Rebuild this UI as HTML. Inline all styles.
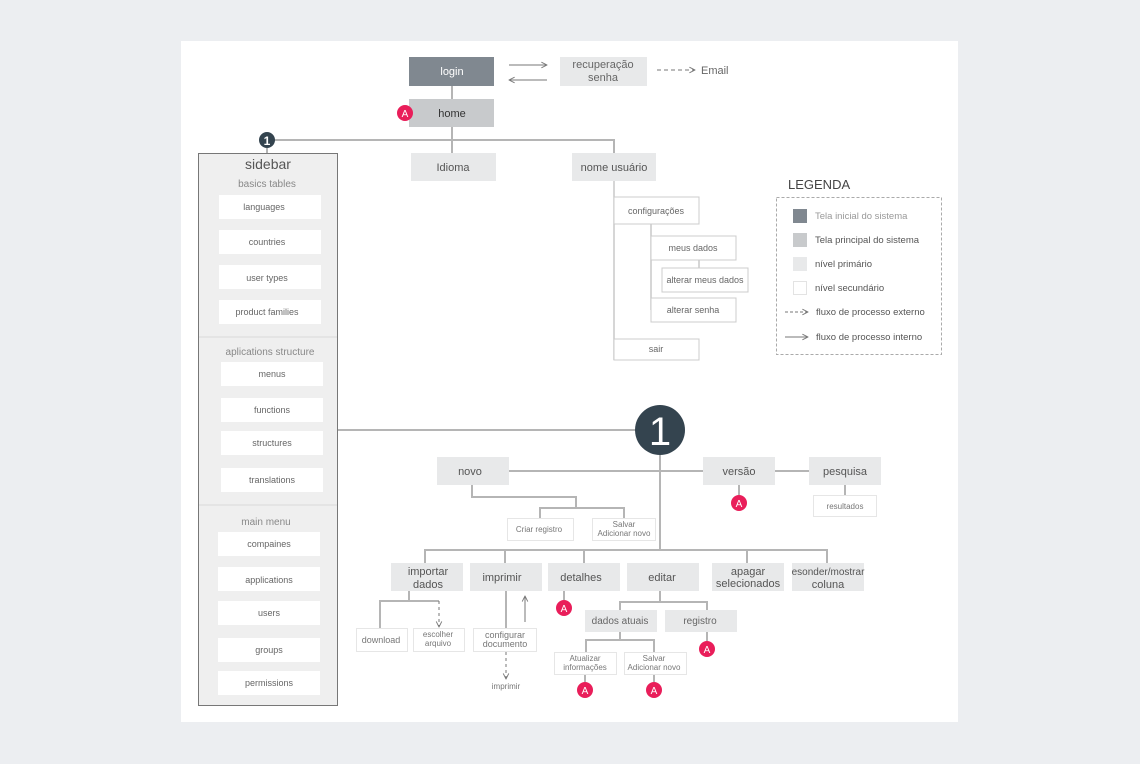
<!DOCTYPE html>
<html><head><meta charset="utf-8"><style>
html,body{margin:0;padding:0;background:#eceef1;width:1140px;height:764px;overflow:hidden}
svg{display:block;font-family:"Liberation Sans",sans-serif}
</style></head><body>
<svg width="1140" height="764" viewBox="0 0 1140 764">
<defs>
<marker id="ar" viewBox="0 0 10 10" refX="9" refY="5" markerWidth="7" markerHeight="7" orient="auto"><path d="M1 1L9 5L1 9" fill="none" stroke="#777" stroke-width="1.3"/></marker>
</defs>
<rect x="181" y="41" width="777" height="681" fill="#fff"/>
<g stroke="#b5b5b5" stroke-width="2" fill="none">
<path d="M452 86V99M452 127V153M267 140H614V153"/>
<path d="M338 430H640M660 455V550M509 471H809"/>
<path d="M739 485V495M845 485V495"/>
<path d="M472 485V497H576V508M540 518V508H624V518"/>
<path d="M425 563V550H827V563M505 550V563M584 550V563M747 550V563"/>
<path d="M409 591V601H380V628M439 601H409"/>
<path d="M506 591V628M564 591V600"/>
<path d="M660 591V602M620 610V602H707V610M707 632V641"/>
<path d="M620 632V640M586 652V640H654V652M585 674V682M654 674V682"/>
<path d="M267 148V153"/>
</g>
<g stroke="#c8c8c8" stroke-width="1.5" fill="none">
<path d="M614 181V360M651 224V310M699 260V268"/>
</g>
<g stroke="#777" stroke-width="1" fill="none">
<path d="M509 65H547" marker-end="url(#ar)"/>
<path d="M547 80H509" marker-end="url(#ar)"/>
<path d="M657 70H695" stroke-dasharray="4 3" marker-end="url(#ar)"/>
<path d="M439 601V627" stroke-dasharray="3 3" marker-end="url(#ar)"/>
<path d="M525 622V596" marker-end="url(#ar)"/>
<path d="M506 652V679" stroke-dasharray="3 3" marker-end="url(#ar)"/>
</g>
<g font-size="11" text-anchor="middle">
<rect x="409" y="57" width="85" height="29" fill="#808890"/><text x="452" y="75" fill="#fff">login</text>
<rect x="560" y="57" width="87" height="29" fill="#e8e9ea"/><text x="603" y="68" fill="#666">recuperação</text><text x="603" y="81" fill="#666">senha</text>
<text x="701" y="74" text-anchor="start" fill="#666">Email</text>
<rect x="409" y="99" width="85" height="28" fill="#c8cacc"/><text x="452" y="117" fill="#333">home</text>
<rect x="411" y="153" width="85" height="28" fill="#e8e9ea"/><text x="453" y="171" fill="#555">Idioma</text>
<rect x="572" y="153" width="84" height="28" fill="#e8e9ea"/><text x="614" y="171" fill="#555">nome usuário</text>
</g>
<g font-size="9" text-anchor="middle" fill="#666" stroke-width="1">
<rect x="614" y="197" width="85" height="27" fill="#fff" stroke="#ccc"/><text x="656" y="214">configurações</text>
<rect x="651" y="236" width="85" height="24" fill="#fff" stroke="#ccc"/><text x="693" y="251">meus dados</text>
<rect x="662" y="268" width="86" height="24" fill="#fff" stroke="#ccc"/><text x="705" y="283">alterar meus dados</text>
<rect x="651" y="298" width="85" height="24" fill="#fff" stroke="#ccc"/><text x="693" y="313">alterar senha</text>
<rect x="614" y="339" width="85" height="21" fill="#fff" stroke="#ccc"/><text x="656" y="352">sair</text>
</g>
<rect x="198.5" y="153.5" width="139" height="552" fill="#efefef" stroke="#777"/>
<path d="M199 337H337M199 505H337" stroke="#e0e0e0" stroke-width="1.5"/>
<g text-anchor="middle" fill="#555">
<text x="268" y="169" font-size="14">sidebar</text>
<text x="267" y="187" font-size="10" fill="#888">basics tables</text>
<text x="270" y="355" font-size="10" fill="#888">aplications structure</text>
<text x="266" y="525" font-size="10" fill="#888">main menu</text>
</g>
<g font-size="9" text-anchor="middle" fill="#666">
<rect x="219" y="195" width="102" height="24" fill="#fff"/><text x="264" y="210">languages</text>
<rect x="219" y="230" width="102" height="24" fill="#fff"/><text x="267" y="245">countries</text>
<rect x="219" y="265" width="102" height="24" fill="#fff"/><text x="267" y="281">user types</text>
<rect x="219" y="300" width="102" height="24" fill="#fff"/><text x="267" y="315">product families</text>
<rect x="221" y="362" width="102" height="24" fill="#fff"/><text x="272" y="377">menus</text>
<rect x="221" y="398" width="102" height="24" fill="#fff"/><text x="272" y="413">functions</text>
<rect x="221" y="431" width="102" height="24" fill="#fff"/><text x="272" y="446">structures</text>
<rect x="221" y="468" width="102" height="24" fill="#fff"/><text x="272" y="483">translations</text>
<rect x="218" y="532" width="102" height="24" fill="#fff"/><text x="269" y="547">compaines</text>
<rect x="218" y="567" width="102" height="24" fill="#fff"/><text x="269" y="583">applications</text>
<rect x="218" y="601" width="102" height="24" fill="#fff"/><text x="269" y="616">users</text>
<rect x="218" y="638" width="102" height="24" fill="#fff"/><text x="269" y="653">groups</text>
<rect x="218" y="671" width="102" height="24" fill="#fff"/><text x="269" y="686">permissions</text>
</g>
<circle cx="267" cy="140" r="8" fill="#34444f"/><text x="267" y="145" font-size="12" fill="#fff" text-anchor="middle" font-weight="bold">1</text>
<circle cx="660" cy="430" r="25" fill="#34444f"/><text x="660" y="445" font-size="40" fill="#fff" text-anchor="middle">1</text>
<g font-size="11" text-anchor="middle" fill="#555">
<rect x="437" y="457" width="72" height="28" fill="#e8e9ea"/><text x="470" y="475">novo</text>
<rect x="703" y="457" width="72" height="28" fill="#e8e9ea"/><text x="739" y="475">versão</text>
<rect x="809" y="457" width="72" height="28" fill="#e8e9ea"/><text x="845" y="475">pesquisa</text>
<rect x="391" y="563" width="72" height="28" fill="#e8e9ea"/><text x="428" y="575">importar</text><text x="428" y="588">dados</text>
<rect x="470" y="563" width="72" height="28" fill="#e8e9ea"/><text x="502" y="581">imprimir</text>
<rect x="548" y="563" width="72" height="28" fill="#e8e9ea"/><text x="581" y="581">detalhes</text>
<rect x="627" y="563" width="72" height="28" fill="#e8e9ea"/><text x="662" y="581">editar</text>
<rect x="712" y="563" width="72" height="28" fill="#e8e9ea"/><text x="748" y="575">apagar</text><text x="748" y="587">selecionados</text>
<rect x="792" y="563" width="72" height="28" fill="#e8e9ea"/><text x="828" y="575" font-size="10">esonder/mostrar</text><text x="828" y="588">coluna</text>
</g>
<g font-size="10" text-anchor="middle" fill="#666">
<rect x="585" y="610" width="72" height="22" fill="#e8e9ea"/><text x="620" y="624">dados atuais</text>
<rect x="665" y="610" width="72" height="22" fill="#e8e9ea"/><text x="700" y="624">registro</text>
</g>
<g font-size="8" text-anchor="middle" fill="#777">
<rect x="813.5" y="495.5" width="63" height="21" fill="#fff" stroke="#e6e6e6"/><text x="845" y="509">resultados</text>
<rect x="507.5" y="518.5" width="66" height="22" fill="#fff" stroke="#e6e6e6"/><text x="539" y="532">Criar registro</text>
<rect x="592.5" y="518.5" width="63" height="22" fill="#fff" stroke="#e6e6e6"/><text x="624" y="527">Salvar</text><text x="624" y="536">Adicionar novo</text>
<rect x="356.5" y="628.5" width="51" height="23" fill="#fff" stroke="#e6e6e6"/><text x="381" y="643" font-size="9">download</text>
<rect x="413.5" y="628.5" width="51" height="23" fill="#fff" stroke="#e6e6e6"/><text x="438" y="637">escolher</text><text x="438" y="646">arquivo</text>
<rect x="473.5" y="628.5" width="63" height="23" fill="#fff" stroke="#e6e6e6"/><text x="505" y="638" font-size="9">configurar</text><text x="505" y="647" font-size="9">documento</text>
<text x="506" y="689">imprimir</text>
<rect x="554.5" y="652.5" width="62" height="22" fill="#fff" stroke="#e6e6e6"/><text x="585" y="661">Atualizar</text><text x="585" y="670">informações</text>
<rect x="624.5" y="652.5" width="62" height="22" fill="#fff" stroke="#e6e6e6"/><text x="654" y="661">Salvar</text><text x="654" y="670">Adicionar novo</text>
</g>
<g fill="#e91e5a">
<circle cx="405" cy="113" r="8"/><circle cx="739" cy="503" r="8"/><circle cx="564" cy="608" r="8"/>
<circle cx="707" cy="649" r="8"/><circle cx="585" cy="690" r="8"/><circle cx="654" cy="690" r="8"/>
</g>
<g fill="#fff" font-size="10" text-anchor="middle">
<text x="405" y="117">A</text><text x="739" y="507">A</text><text x="564" y="612">A</text>
<text x="707" y="653">A</text><text x="585" y="694">A</text><text x="654" y="694">A</text>
</g>
<text x="788" y="189" font-size="13" fill="#444">LEGENDA</text>
<rect x="776.5" y="197.5" width="165" height="157" fill="none" stroke="#aaa" stroke-dasharray="3 2"/>
<rect x="793" y="209" width="14" height="14" fill="#808890"/>
<rect x="793" y="233" width="14" height="14" fill="#c8cacc"/>
<rect x="793" y="257" width="14" height="14" fill="#e8e9ea"/>
<rect x="793.5" y="281.5" width="13" height="13" fill="#fff" stroke="#e3e3e3"/>
<g font-size="9.5" fill="#555">
<text x="815" y="219" fill="#999">Tela inicial do sistema</text>
<text x="815" y="243">Tela principal do sistema</text>
<text x="815" y="267">nível primário</text>
<text x="815" y="291">nível secundário</text>
<text x="816" y="315">fluxo de processo externo</text>
<text x="816" y="340">fluxo de processo interno</text>
</g>
<path d="M785 312H808" stroke="#777" stroke-dasharray="3 2" fill="none" marker-end="url(#ar)"/>
<path d="M785 337H808" stroke="#777" fill="none" marker-end="url(#ar)"/>
</svg>
</body></html>
